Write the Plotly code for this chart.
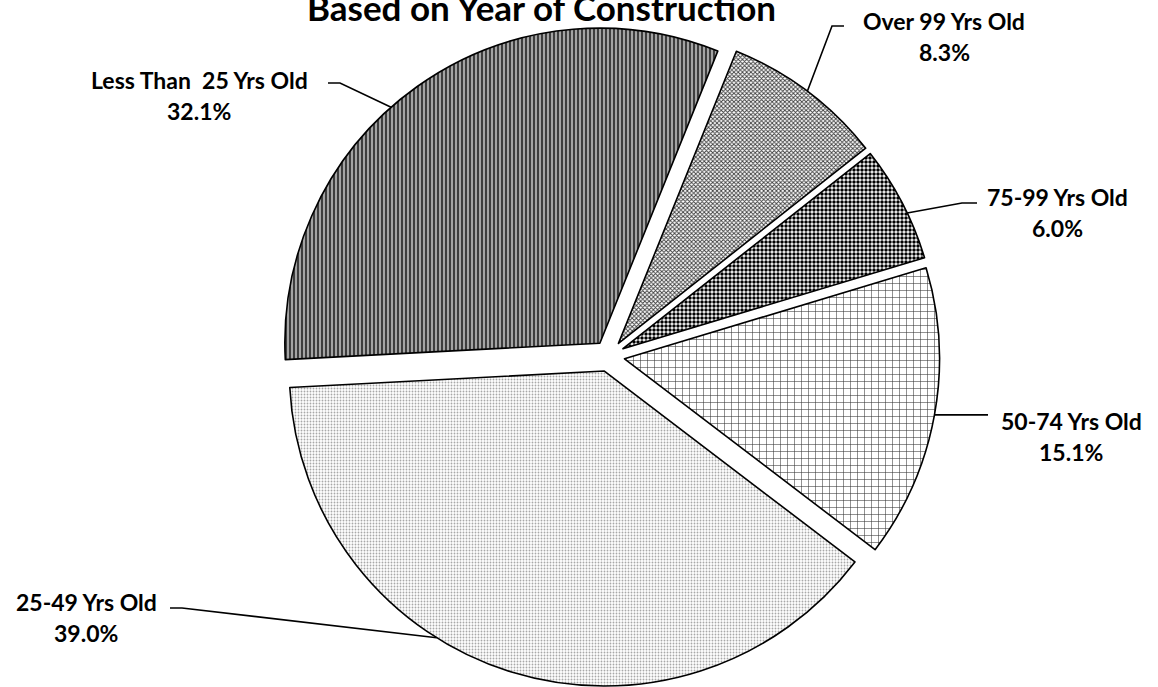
import math
import plotly.graph_objects as go

# Housing units by age of structure
categories = ["Less Than\u00a0 25 Yrs Old", "Over 99 Yrs Old", "75-99 Yrs Old",
              "50-74 Yrs Old", "25-49 Yrs Old"]
shares = [32.1, 8.3, 6.0, 15.1, 39.0]

W, H = 1158, 687
CX, CY, R = 609, 356, 315          # pie centre and radius in pixels
PULL = 0.05
ROTATION = 267

FONT = "Lato"

# fill patterns, one per slice
pat_shape = ["|", "x", ".", "+", "."]
pat_fg = ["#2a2a2a", "#3c3c3c", "#000000", "#333333", "#a8a8a8"]
pat_bg = ["#a4a4a4", "#ffffff", "#ffffff", "#ffffff", "#ffffff"]
pat_size = [4, 3, 4, 7, 3]
pat_solid = [0.42, 0.5, 0.6, 0.15, 0.3]

box = 2 * R * (1 + PULL)
dom_x = [(CX - box / 2) / W, (CX + box / 2) / W]
dom_y = [max(0.0, 1 - (CY + box / 2) / H), 1 - (CY - box / 2) / H]

fig = go.Figure(go.Pie(
    labels=categories,
    values=shares,
    sort=False,
    direction="clockwise",
    rotation=ROTATION,
    pull=PULL,
    textinfo="none",
    hoverinfo="label+value",
    domain=dict(x=dom_x, y=dom_y),
    marker=dict(
        colors=pat_bg,
        line=dict(color="#000000", width=1.6),
        pattern=dict(shape=pat_shape, fgcolor=pat_fg, bgcolor=pat_bg,
                     size=pat_size, solidity=pat_solid, fillmode="replace"),
    ),
))

# label text positions (centre x, first line y, second line y) in pixels
label_pos = [(199, 80, 111), (944, 21, 52), (1057, 197, 228),
             (1071, 421, 452), (86, 602, 633)]
# leader line bends, from the slice outward
leader_bends = [[(340, 83), (328, 83)],
                [(832, 26), (844, 26)],
                [(962, 203), (977, 203)],
                [(988, None)],
                [(182, 608), (170, 608)]]
attach_shift = [-6, 0, 2, 0, 15]   # degrees from the slice mid-angle


def px(x, y):
    return x / W, 1 - y / H


total = sum(shares)
start = ROTATION
shapes, annotations = [], []
for i, (name, v) in enumerate(zip(categories, shares)):
    span = v / total * 360
    mid = start + span / 2
    start += span
    m = math.radians(mid)
    sx = CX + PULL * R * math.sin(m)
    sy = CY - PULL * R * math.cos(m)
    a = math.radians(mid + attach_shift[i])
    ax = sx + R * math.sin(a)
    ay = sy - R * math.cos(a)
    pts = [(ax, ay)]
    for bx, by in leader_bends[i]:
        pts.append((bx, ay if by is None else by))
    path = "M " + " L ".join(f"{px(x, y)[0]:.5f},{px(x, y)[1]:.5f}" for x, y in pts)
    shapes.append(dict(type="path", xref="paper", yref="paper", path=path,
                       line=dict(color="#000000", width=1.6)))
    lx, ly1, ly2 = label_pos[i]
    for txt, yy in ((name, ly1), (f"{v:.1f}%", ly2)):
        x0, y0 = px(lx, yy)
        annotations.append(dict(text=f"<b>{txt}</b>", x=x0, y=y0, xref="paper", yref="paper",
                                xanchor="center", yanchor="middle", showarrow=False,
                                font=dict(family=FONT, size=23, color="#000000")))

# chart heading
tx, ty = px(541, 7)
annotations.append(dict(text="<b>Based on Year of Construction</b>", x=tx, y=ty,
                        xref="paper", yref="paper", xanchor="center", yanchor="middle",
                        showarrow=False, font=dict(family=FONT, size=35, color="#000000")))

fig.update_layout(
    width=W, height=H,
    margin=dict(l=0, r=0, t=0, b=0),
    paper_bgcolor="#ffffff",
    showlegend=False,
    shapes=shapes,
    annotations=annotations,
)

fig.write_html("out.html")
